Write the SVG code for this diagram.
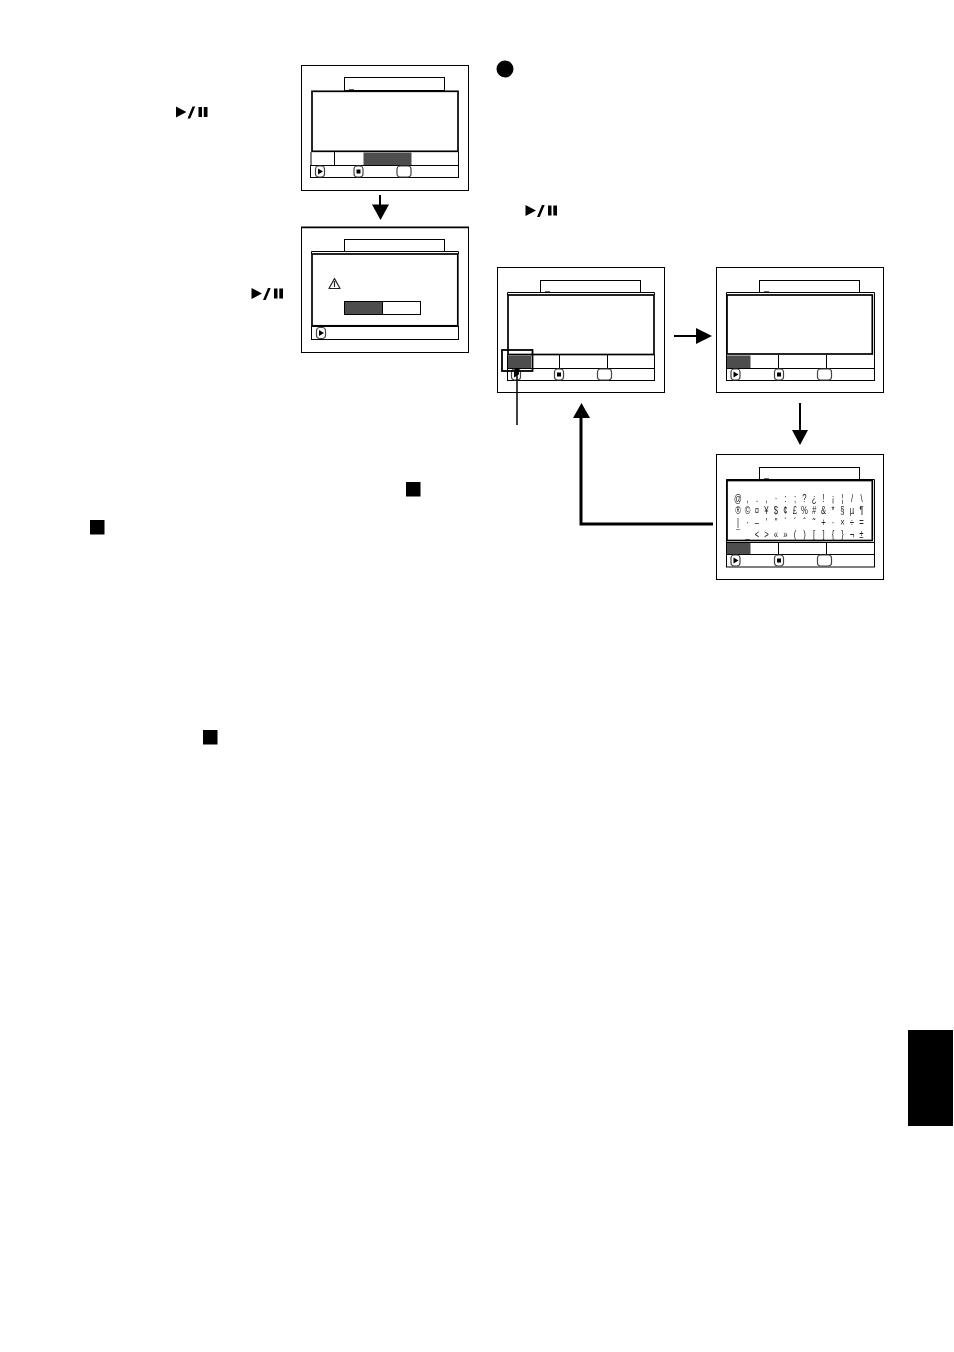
<svg xmlns="http://www.w3.org/2000/svg" xmlns:xlink="http://www.w3.org/1999/xlink" width="954" height="1352" viewBox="0 0 954 1352">
<style>
.thin{fill:#fff;stroke:#000;stroke-width:1}
.thick{fill:#fff;stroke:#000;stroke-width:1.700}
.none{fill:none;stroke:#000;stroke-width:1}
.dark{fill:#4d4d4d}
.dash{fill:#666}
.k{fill:#000}
.ic{fill:#fff;stroke:#444;stroke-width:1.200}
.ch{font-family:"Liberation Sans",Arial,sans-serif;font-size:11px;text-anchor:middle;fill:#222}
</style>
<defs>
<filter id="gray" x="0" y="0" width="1" height="1" filterUnits="objectBoundingBox"><feColorMatrix type="saturate" values="0"/></filter>
<g id="pp"><polygon class="k" points="0,0 10.500,5.500 0,11"/><polygon class="k" points="11.500,12 14.200,12 19.200,0 16.500,0"/><rect class="k" x="22.500" y="0.500" width="3.500" height="10"/><rect class="k" x="27.800" y="0.500" width="3.700" height="10"/></g>
<g id="play"><rect class="ic" x="-4.500" y="-5.500" width="9" height="11" rx="3"/><polygon class="k" points="-2,-3 3,0 -2,3"/></g>
<g id="stop"><rect class="ic" x="-4.500" y="-5.500" width="9" height="11" rx="3"/><rect class="k" x="-2" y="-2" width="4" height="4"/></g>
<g id="oval"><rect class="ic" x="0" y="-5.500" width="14" height="11" rx="3"/></g>
</defs>
<rect width="954" height="1352" fill="#fff"/>

<g id="screen1">
<rect class="thin" x="301.500" y="65.500" width="167" height="125"/>
<rect class="thin" x="344.500" y="77.500" width="100" height="13"/>
<rect class="dash" x="349" y="89" width="5" height="1"/>
<rect class="thick" x="312" y="91.300" width="146" height="60"/>
<rect class="dark" x="363.500" y="152.500" width="48" height="13"/>
<path class="none" d="M334.500 152V165M311 152V165M458.500 152V165"/>
<rect class="thin" x="310.500" y="165.500" width="148" height="12"/>
<use xlink:href="#play" href="#play" x="320" y="171.500"/>
<use xlink:href="#stop" href="#stop" x="358.500" y="171.500"/>
<use xlink:href="#oval" href="#oval" x="397" y="171.500"/>
</g>

<g id="screen2">
<rect class="thin" x="301.500" y="227.500" width="167" height="125"/>
<path d="M301 227.300H469" stroke="#000" stroke-width="1.800" fill="none"/>
<rect class="thin" x="344.500" y="239.500" width="100" height="12"/>
<path class="none" d="M311.500 254V251.500H458.500V254"/>
<rect class="thick" x="312" y="254" width="145.800" height="71.800"/>
<rect class="none" x="311.500" y="326.500" width="147" height="13"/>
<rect class="thin" x="344.500" y="301.500" width="76" height="13"/>
<rect class="dark" x="345" y="302" width="37.500" height="12"/>
<path class="none" d="M382.500 302V314"/>
<path d="M334.500 278.500L340 288.500H329Z M334.500 281V287" fill="#fff" stroke="#222" stroke-width="1.200" stroke-linejoin="round"/>
<use xlink:href="#play" href="#play" x="321" y="333"/>
</g>

<g id="screen3">
<rect class="thin" x="497.500" y="267.500" width="167" height="125"/>
<rect class="thin" x="540.500" y="280.500" width="100" height="12"/>
<rect class="dash" x="545" y="291" width="5" height="1"/>
<path class="none" d="M507.500 295V292.500H654.500V295"/>
<rect class="thick" x="508" y="295" width="146" height="59.500"/>
<rect class="dark" x="508" y="355.500" width="23" height="12.500"/>
<path class="none" d="M559.500 355V368M607.500 355V368M507.500 355V368M654.500 355V368"/>
<rect class="thin" x="507.500" y="368.500" width="147" height="12"/>
<use xlink:href="#play" href="#play" x="516" y="374.500"/>
<use xlink:href="#stop" href="#stop" x="559" y="374.500"/>
<use xlink:href="#oval" href="#oval" x="597.500" y="374.500"/>
<rect x="502" y="350" width="30.500" height="21" fill="none" stroke="#000" stroke-width="1.800"/>
<path d="M517 368V425" stroke="#000" stroke-width="1.500" fill="none"/>
<rect class="k" x="514.500" y="368" width="4.500" height="6.500"/>
</g>

<g id="screen4">
<rect class="thin" x="716.500" y="267.500" width="167" height="125"/>
<rect class="thin" x="759.500" y="280.500" width="100" height="12"/>
<rect class="dash" x="764" y="291" width="5" height="1"/>
<path class="none" d="M726.500 355V292.500H874.500V355"/>
<rect class="thick" x="727" y="295" width="145.300" height="59"/>
<rect class="dark" x="727" y="355.500" width="23.500" height="12.500"/>
<path class="none" d="M778.500 355V368M826.500 355V368M726.500 355V368M874.500 355V368"/>
<rect class="thin" x="726.500" y="368.500" width="148" height="12"/>
<use xlink:href="#play" href="#play" x="735.500" y="374.500"/>
<use xlink:href="#stop" href="#stop" x="779" y="374.500"/>
<use xlink:href="#oval" href="#oval" x="817.500" y="374.500"/>
</g>

<g id="screen5">
<rect class="thin" x="716.500" y="454.500" width="167" height="125"/>
<rect class="thin" x="759.500" y="467.500" width="100" height="12"/>
<rect class="dash" x="764" y="478" width="5" height="1"/>
<path class="none" d="M726.500 543V479.500H874.500V543"/>
<rect class="thick" x="727" y="480.500" width="145.300" height="60"/>
<rect class="dark" x="727" y="543" width="23.500" height="11.500"/>
<path class="none" d="M726.500 542.500H874.500M778.500 543V555M826.500 543V555M726.500 543V555M874.500 543V555"/>
<rect class="thin" x="726.500" y="554.500" width="148" height="12.500"/>
<use xlink:href="#play" href="#play" x="735.500" y="560.500"/>
<use xlink:href="#stop" href="#stop" x="779" y="560.500"/>
<use xlink:href="#oval" href="#oval" x="817.500" y="560.500"/>
<g filter="url(#gray)"><g transform="scale(.7 1)">
<text class="ch" y="502"><tspan x="1054.300">@</tspan><tspan x="1067.900">,</tspan><tspan x="1081.400">.</tspan><tspan x="1095">,</tspan><tspan x="1108.600">·</tspan><tspan x="1122.100">:</tspan><tspan x="1135.700">;</tspan><tspan x="1149.300">?</tspan><tspan x="1162.900">¿</tspan><tspan x="1176.400">!</tspan><tspan x="1190">¡</tspan><tspan x="1203.600">¦</tspan><tspan x="1217.100">/</tspan><tspan x="1230.700">\</tspan></text>
<text class="ch" y="514"><tspan x="1054.300">®</tspan><tspan x="1067.900">©</tspan><tspan x="1081.400">¤</tspan><tspan x="1095">¥</tspan><tspan x="1108.600">$</tspan><tspan x="1122.100">¢</tspan><tspan x="1135.700">£</tspan><tspan x="1149.300">%</tspan><tspan x="1162.900">#</tspan><tspan x="1176.400">&amp;</tspan><tspan x="1190">*</tspan><tspan x="1203.600">§</tspan><tspan x="1217.100">µ</tspan><tspan x="1230.700">¶</tspan></text>
<text class="ch" y="526"><tspan x="1054.300">|</tspan><tspan x="1067.900">·</tspan><tspan x="1081.400">–</tspan><tspan x="1095">'</tspan><tspan x="1108.600">"</tspan><tspan x="1122.100">`</tspan><tspan x="1135.700">´</tspan><tspan x="1149.300">ˆ</tspan><tspan x="1162.900">˜</tspan><tspan x="1176.400">+</tspan><tspan x="1190">·</tspan><tspan x="1203.600">×</tspan><tspan x="1217.100">÷</tspan><tspan x="1230.700">=</tspan></text>
<text class="ch" y="538"><tspan x="1054.300">¯</tspan><tspan x="1067.900">_</tspan><tspan x="1081.400">&lt;</tspan><tspan x="1095">&gt;</tspan><tspan x="1108.600">«</tspan><tspan x="1122.100">»</tspan><tspan x="1135.700">(</tspan><tspan x="1149.300">)</tspan><tspan x="1162.900">[</tspan><tspan x="1176.400">]</tspan><tspan x="1190">{</tspan><tspan x="1203.600">}</tspan><tspan x="1217.100">¬</tspan><tspan x="1230.700">±</tspan></text>
</g></g>
</g>

<g id="connectors">
<path d="M380 195V206" stroke="#000" stroke-width="2" fill="none"/>
<polygon class="k" points="372,204.500 389,204.500 380.500,220"/>
<path d="M674 336H698" stroke="#000" stroke-width="2" fill="none"/>
<polygon class="k" points="696,328 712,336 696,344"/>
<path d="M800 403V431" stroke="#000" stroke-width="2" fill="none"/>
<polygon class="k" points="792,430 808,430 800,445"/>
<path d="M713 524H581V416" stroke="#000" stroke-width="3" fill="none"/>
<polygon class="k" points="573,418 590,418 581.500,403"/>
</g>

<g id="symbols">
<circle class="k" cx="505" cy="69" r="8.500"/>
<use xlink:href="#pp" href="#pp" x="176" y="106.500"/>
<use xlink:href="#pp" href="#pp" x="251.500" y="288"/>
<use xlink:href="#pp" href="#pp" x="525.500" y="205"/>
<rect class="k" x="406" y="482" width="14.500" height="14.500"/>
<rect class="k" x="90" y="520" width="14.500" height="14.500"/>
<rect class="k" x="203" y="730" width="14.500" height="14.500"/>
<rect class="k" x="908" y="1030" width="45" height="96"/>
</g>
</svg>
